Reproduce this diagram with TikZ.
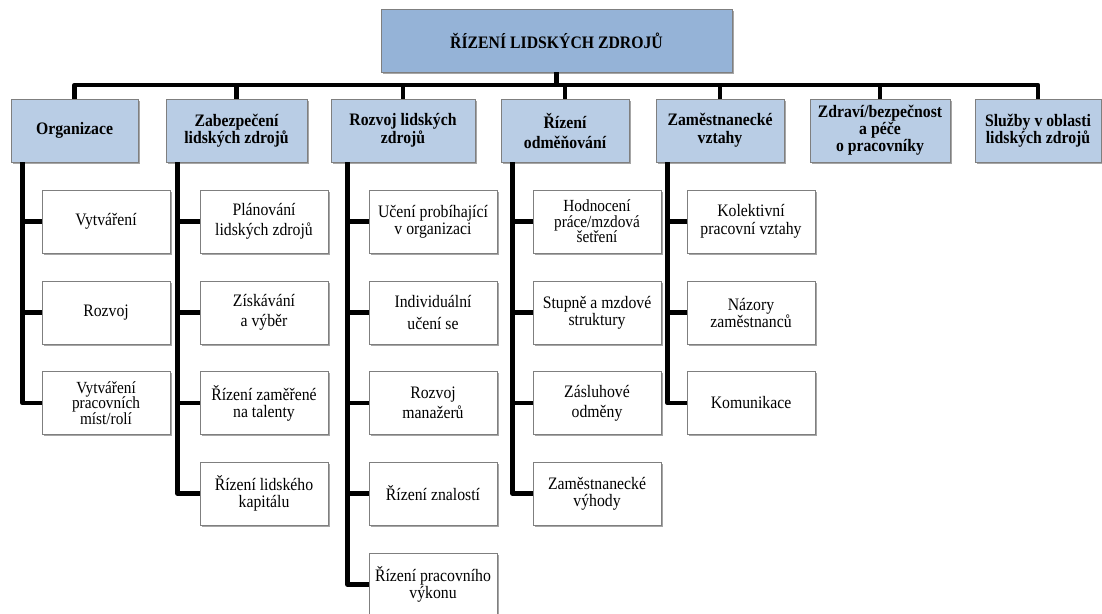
\documentclass[tikz,border=0pt]{standalone}
\usepackage{fontspec}
\setmainfont{Liberation Serif}[FakeStretch=0.9]
\usetikzlibrary{shadows}
\definecolor{topblue}{HTML}{95B3D7}
\definecolor{headblue}{HTML}{B9CDE5}
\definecolor{boxline}{HTML}{7F7F7F}
\tikzset{
  boxbase/.style={draw=boxline, line width=0.8pt, inner sep=0pt, align=center,
    drop shadow={shadow xshift=1.6pt, shadow yshift=-1.6pt, opacity=0.35, fill=black}},
  topbox/.style={boxbase, fill=topblue, minimum width=351pt, minimum height=63pt,
    font=\bfseries\fontsize{17.5}{16}\selectfont},
  headbox/.style={boxbase, fill=headblue, minimum height=63pt,
    font=\bfseries\fontsize{17.5}{16}\selectfont},
  childbox/.style={boxbase, fill=white, minimum width=128pt, minimum height=63pt,
    font=\fontsize{17.5}{20}\selectfont},
  tight/.style={font=\fontsize{17}{15.5}\selectfont},
  conn/.style={line width=4.6pt, line join=round, black}
}
\begin{document}
\begin{tikzpicture}[x=1pt,y=-1pt]
\useasboundingbox (0,0) rectangle (1102,613);
\fill[white] (0,0) rectangle (1102,613);

% top
\node[topbox] (top) at (556.5,40.5) {ŘÍZENÍ LIDSKÝCH ZDROJŮ};
\coordinate (bus) at (0,85);

% headers
\node[headbox, minimum width=127pt] (h1) at (74.5,130.5) {Organizace};
\node[headbox, minimum width=141pt] (h2) at (236.5,130.5) {Zabezpečení\\lidských zdrojů};
\node[headbox, minimum width=144pt] (h3) at (403,130.5) {Rozvoj lidských\\zdrojů};
\node[headbox, minimum width=128pt, font=\bfseries\fontsize{17.5}{20}\selectfont] (h4) at (565,130.5) {Řízení\\odměňování};
\node[headbox, minimum width=128pt, font=\bfseries\fontsize{17.5}{18}\selectfont] (h5) at (720,130.5) {Zaměstnanecké\\vztahy};
\node[headbox, minimum width=140pt, font=\bfseries\fontsize{17.5}{14.5}\selectfont] (h6) at (880,130.5) {Zdraví/bezpečnost\\a péče\\o pracovníky};
\node[headbox, minimum width=126pt] (h7) at (1038,130.5) {Služby v oblasti\\lidských zdrojů};

% column 1
\node[childbox] (c1a) at (106,221.5) {Vytváření};
\node[childbox] (c1b) at (106,312.5) {Rozvoj};
\node[childbox, tight] (c1c) at (106,403) {Vytváření\\pracovních\\míst/rolí};
% column 2
\node[childbox] (c2a) at (264,221.5) {Plánování\\lidských zdrojů};
\node[childbox] (c2b) at (264,312.5) {Získávání\\a výběr};
\node[childbox, font=\fontsize{17.5}{17}\selectfont] (c2c) at (264,403) {Řízení zaměřené\\na talenty};
\node[childbox, font=\fontsize{17.5}{17}\selectfont] (c2d) at (264,493.5) {Řízení lidského\\kapitálu};
% column 3
\node[childbox, font=\fontsize{17.5}{17}\selectfont] (c3a) at (433,221.5) {Učení probíhající\\v organizaci};
\node[childbox, font=\fontsize{17.5}{22}\selectfont] (c3b) at (433,312.5) {Individuální\\učení se};
\node[childbox] (c3c) at (433,403) {Rozvoj\\manažerů};
\node[childbox] (c3d) at (433,493.5) {Řízení znalostí};
\node[childbox, font=\fontsize{17.5}{17}\selectfont] (c3e) at (433,584.5) {Řízení pracovního\\výkonu};
% column 4
\node[childbox, tight] (c4a) at (597,221.5) {Hodnocení\\práce/mzdová\\šetření};
\node[childbox, font=\fontsize{17.5}{17}\selectfont] (c4b) at (597,312.5) {Stupně a mzdové\\struktury};
\node[childbox] (c4c) at (597,403) {Zásluhové\\odměny};
\node[childbox, font=\fontsize{17.5}{17}\selectfont] (c4d) at (597,493.5) {Zaměstnanecké\\výhody};
% column 5
\node[childbox, font=\fontsize{17.5}{18}\selectfont] (c5a) at (751,221.5) {Kolektivní\\pracovní vztahy};
\node[childbox, font=\fontsize{17.5}{17}\selectfont] (c5b) at (751,312.5) {Názory\\zaměstnanců};
\node[childbox] (c5c) at (751,403) {Komunikace};

% bus and stems
\draw[conn] (h1.north) -- (h1.north |- bus) -- (h7.north |- bus) -- (h7.north);
\draw[conn] (top.south) -- (top.south |- bus);
\foreach \h in {h2,h3,h4,h5,h6} \draw[conn] (\h.north) -- (\h.north |- bus);

% trunks
\coordinate (t1) at ([xshift=12pt]h1.south west);
\coordinate (t2) at ([xshift=12pt]h2.south west);
\coordinate (t3) at ([xshift=17pt]h3.south west);
\coordinate (t4) at ([xshift=12pt]h4.south west);
\coordinate (t5) at ([xshift=12pt]h5.south west);

\draw[conn] (t1) |- (c1c.west);
\foreach \c in {c1a,c1b} \draw[conn] (\c.west) -- (\c.west -| t1);
\draw[conn] (t2) |- (c2d.west);
\foreach \c in {c2a,c2b,c2c} \draw[conn] (\c.west) -- (\c.west -| t2);
\draw[conn] (t3) |- (c3e.west);
\foreach \c in {c3a,c3b,c3c,c3d} \draw[conn] (\c.west) -- (\c.west -| t3);
\draw[conn] (t4) |- (c4d.west);
\foreach \c in {c4a,c4b,c4c} \draw[conn] (\c.west) -- (\c.west -| t4);
\draw[conn] (t5) |- (c5c.west);
\foreach \c in {c5a,c5b} \draw[conn] (\c.west) -- (\c.west -| t5);
\end{tikzpicture}
\end{document}
